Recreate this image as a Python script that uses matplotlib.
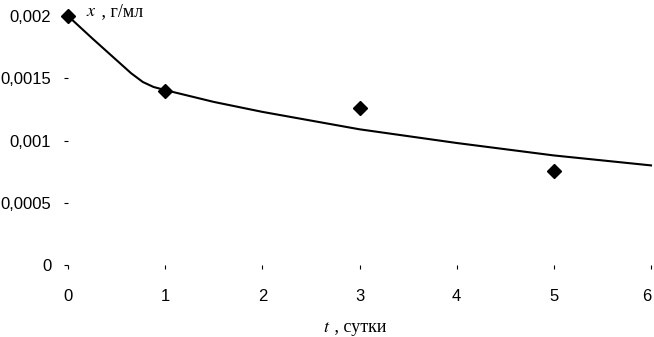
import matplotlib
matplotlib.use("Agg")
import matplotlib.pyplot as plt
import matplotlib.transforms as mtransforms
from matplotlib.ticker import FuncFormatter

# measured points
t_points = [0, 1, 3, 5]
x_points = [0.002, 0.0014, 0.00126, 0.000755]

# fitted curve
t_curve = [0, 0.25, 0.5, 0.65, 0.77, 0.88, 1, 1.5, 2, 3, 4, 5, 6]
x_curve = [0.002, 0.00182, 0.001645, 0.00154, 0.00147, 0.00143, 0.001405,
           0.00131, 0.00123, 0.00109, 0.00098, 0.00088, 0.00080]

x_ticks = [0, 1, 2, 3, 4, 5, 6]
y_ticks = [0, 0.0005, 0.001, 0.0015, 0.002]

fig = plt.figure(figsize=(6.54, 3.37), dpi=100)
ax = fig.add_axes([68 / 654, 72 / 337, 583 / 654, 249 / 337])

ax.plot(t_curve, x_curve, color="black", lw=1.5, zorder=2, clip_on=False)
ax.plot(t_points, x_points, "D", color="black", ms=7.5, zorder=3, clip_on=False)

ax.set_xlim(0, 6)
ax.set_ylim(0, 0.002)
ax.set_xticks(x_ticks)
ax.set_yticks(y_ticks)


def comma(v, pos):
    if v == 0:
        return "0"
    return ("%.4f" % v).rstrip("0").replace(".", ",")


ax.yaxis.set_major_formatter(FuncFormatter(comma))
for s in ax.spines.values():
    s.set_visible(False)
ax.tick_params(axis="y", length=3, width=0.8, pad=9, labelsize=12)
ax.tick_params(axis="x", length=3, width=0.8, pad=14, labelsize=12)
for lab in ax.get_xticklabels() + ax.get_yticklabels():
    lab.set_fontfamily("Liberation Sans")

# last x label sits a bit left so it stays inside the picture
last = ax.get_xticklabels()[-1]
last.set_transform(last.get_transform() +
                   mtransforms.ScaledTranslation(-4 / 100, 0, fig.dpi_scale_trans))

fig.text(86 / 654, 1 - 12 / 337, "$x$", fontfamily="Liberation Serif",
         fontsize=13, va="center", ha="left", math_fontfamily="stix")
fig.text(97 / 654, 1 - 12 / 337, " , г/мл", fontfamily="Liberation Serif",
         fontsize=13, va="center", ha="left")
fig.text(323 / 654, 1 - 327 / 337, "$t$", fontfamily="Liberation Serif",
         fontsize=13, va="center", ha="left", math_fontfamily="stix")
fig.text(330 / 654, 1 - 327 / 337, " , сутки", fontfamily="Liberation Serif",
         fontsize=13, va="center", ha="left")

plt.savefig("out.png", dpi=100)
